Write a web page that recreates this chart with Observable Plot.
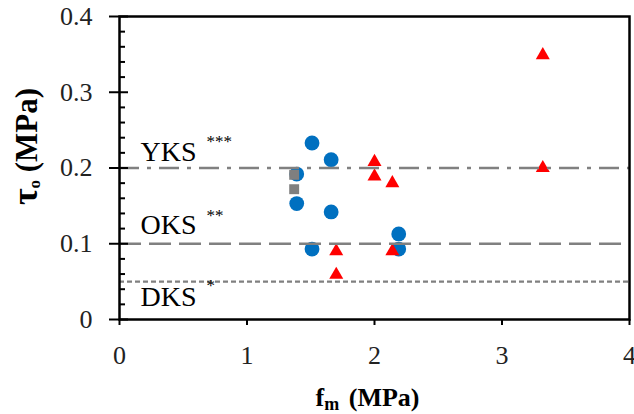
<!DOCTYPE html>
<html><head><meta charset="utf-8">
<script src="https://cdn.jsdelivr.net/npm/d3@7"></script>
<script src="https://cdn.jsdelivr.net/npm/@observablehq/plot@0.6"></script>
<style>
html,body{margin:0;padding:0;background:#fff}
svg{display:block}
#chart svg, #chart svg text, #chart svg g { font-family: "Liberation Serif", "Times New Roman", Times, serif !important; }
</style>
</head><body><div id="chart"></div>
<script>
// Series
const circleFm  = [1.51, 1.66, 1.39, 1.39, 1.66, 1.51, 2.19, 2.19];
const circleTau = [0.233, 0.211, 0.192, 0.153, 0.142, 0.093, 0.113, 0.093];
const squareFm  = [1.37, 1.37];
const squareTau = [0.191, 0.172];
const triFm     = [3.32, 3.32, 2.00, 2.00, 2.14, 1.70, 1.70, 2.14];
const triTau    = [0.349, 0.200, 0.208, 0.189, 0.180, 0.090, 0.059, 0.090];
// Reference levels
const refNames  = ["YKS", "OKS", "DKS"];
const refStars  = ["***", "**", "*"];
const refValues = [0.2, 0.1, 0.05];
// Ticks
const xTicks = [0, 1, 2, 3, 4];
const yTicks = [0, 0.1, 0.2, 0.3, 0.4];
const yMinor = [0.02,0.04,0.06,0.08,0.12,0.14,0.16,0.18,0.22,0.24,0.26,0.28,0.32,0.34,0.36,0.38];

const zip = (a, b) => a.map((v, i) => ({fm: v, tau: b[i]}));
const circles = zip(circleFm, circleTau);
const squares = zip(squareFm, squareTau);
const tris = zip(triFm, triTau);
const refs = refNames.map((n, i) => ({name: n, stars: refStars[i], value: refValues[i]}));

const dash = {YKS: "20,8,4,8", OKS: "22,8", DKS: "5,3"};
const nameDy = {YKS: -7.5, OKS: -10, DKS: 24};
const starDy = {YKS: -21, OKS: -23, DKS: 9};
const gray = "#808080";

const chart = Plot.plot({
  width: 634, height: 414,
  marginLeft: 119, marginRight: 5, marginTop: 16, marginBottom: 95,
  style: {background: "#fff", color: "#222", overflow: "visible"},
  x: {domain: [0, 4]},
  y: {domain: [0, 0.4]},
  marks: [
    Plot.dot(circles, {x: "fm", y: "tau", r: 7.4, fill: "#0070C0", symbol: "circle"}),
    Plot.dot(squares, {x: "fm", y: "tau", r: 5.6, fill: "#7f7f7f", symbol: "square"}),
    Plot.dot(tris, {x: "fm", y: "tau", r: 5.2, fill: "#FF0000", symbol: "triangle"}),
    ...refs.map(d => Plot.ruleY([d], {y: "value", stroke: gray, strokeWidth: 2.3, strokeDasharray: dash[d.name]})),
    ...refs.map(d => Plot.text([d], {y: "value", text: "name", frameAnchor: "left", textAnchor: "start", lineAnchor: "bottom", dx: 21, dy: nameDy[d.name], fontSize: 28, fill: "#000"})),
    ...refs.map(d => Plot.text([d], {y: "value", text: "stars", frameAnchor: "left", textAnchor: "start", lineAnchor: "bottom", dx: 87, dy: starDy[d.name], fontSize: 17, fill: "#000"})),
    Plot.frame({stroke: "#000", strokeWidth: 2.5}),
    Plot.axisX({ticks: xTicks, tickSize: 6, tickPadding: 20, fontSize: 26, label: null, strokeWidth: 2, stroke: "#000", tickFormat: d => String(d)}),
    Plot.axisY({ticks: yTicks, tickSize: 10, tickPadding: 17, fontSize: 26, label: null, strokeWidth: 2, stroke: "#000", tickFormat: d => d === 0 ? "0" : d.toFixed(1)}),
    Plot.axisY({ticks: yTicks, tickSize: -9, text: null, label: null, strokeWidth: 2, stroke: "#000"}),
    Plot.axisY({ticks: yMinor, tickSize: -6, text: null, label: null, strokeWidth: 2, stroke: "#000"}),
    Plot.text(["fm (MPa)"], {frameAnchor: "bottom", textAnchor: "middle", lineAnchor: "bottom", dx: -7, dy: 86, fontSize: 26, fontWeight: "bold", fill: "#000"}),
    Plot.text(["τo (MPa)"], {frameAnchor: "left", textAnchor: "middle", lineAnchor: "bottom", rotate: -90, dx: -83, dy: -21.5, fontSize: 31, fontWeight: "bold", fill: "#000"})
  ]
});

// Subscripts in the axis titles
d3.select(chart).selectAll("text").each(function() {
  const t = this.textContent;
  const sel = d3.select(this);
  if (t === "fm (MPa)") {
    sel.text(null);
    sel.append("tspan").text("f");
    sel.append("tspan").attr("dy", 4).attr("font-size", 18).text("m");
    sel.append("tspan").attr("dy", -4).attr("dx", 3).text(" (MPa)");
  } else if (t === "τo (MPa)") {
    sel.text(null);
    sel.append("tspan").attr("font-size", 36).text("τ");
    sel.append("tspan").attr("dy", 3).attr("font-size", 17).text("o");
    sel.append("tspan").attr("dy", -3).text(" (MPa)");
  }
});

document.getElementById("chart").appendChild(chart);
</script>
</body></html>
